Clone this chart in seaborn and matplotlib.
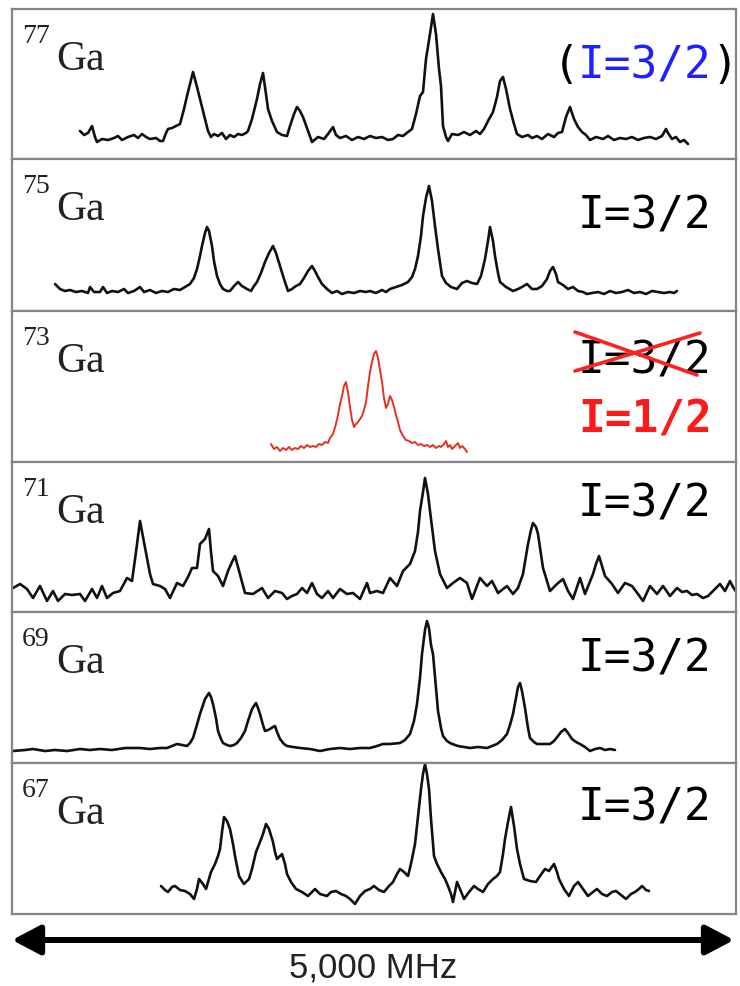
import matplotlib
matplotlib.use("Agg")
import seaborn as sns
import matplotlib.pyplot as plt

# isotopes top to bottom, spectra
# x = frequency channel (image column), y = signal height above panel floor
isotopes = ["77", "75", "73", "71", "69", "67"]

ga77_x = [80, 84, 88, 92, 95, 97, 102, 108, 114, 118, 122, 128, 134, 138, 142, 146, 150, 156, 160, 163,
          166, 168, 172, 176, 180, 184, 187, 190, 193, 196, 200, 204, 208, 211, 214, 218, 222, 226, 230, 234,
          238, 242, 246, 248, 252, 257, 260, 263, 266, 268, 272, 277, 282, 287, 290, 294, 297, 300, 303, 308,
          312, 318, 324, 328, 333, 336, 340, 346, 352, 358, 364, 370, 376, 382, 388, 393, 398, 403, 408, 412,
          416, 420, 423, 426, 430, 433, 436, 439, 441, 443, 446, 448, 452, 458, 464, 470, 476, 480, 484, 488,
          493, 497, 500, 503, 506, 510, 514, 517, 522, 528, 532, 537, 542, 548, 554, 558, 562, 566, 570, 574,
          578, 582, 586, 590, 596, 603, 608, 614, 620, 626, 632, 638, 644, 650, 656, 662, 666, 668, 672, 676,
          680, 684, 688]
ga77_y = [28, 24, 26, 33, 22, 17, 20, 19, 21, 23, 19, 22, 24, 21, 25, 22, 20, 21, 18, 18,
          26, 30, 31, 33, 35, 50, 63, 75, 87, 76, 60, 44, 28, 22, 25, 23, 26, 20, 24, 22,
          25, 24, 26, 28, 40, 60, 75, 86, 65, 50, 38, 27, 24, 23, 33, 45, 52, 48, 42, 28,
          17, 22, 20, 25, 32, 24, 21, 23, 19, 22, 20, 23, 21, 22, 19, 20, 24, 23, 27, 30,
          45, 63, 67, 100, 125, 145, 125, 90, 73, 33, 22, 18, 25, 24, 27, 24, 28, 25, 30, 38,
          47, 62, 78, 82, 70, 50, 35, 25, 22, 24, 21, 23, 20, 25, 22, 26, 27, 42, 52, 40,
          32, 27, 24, 19, 22, 20, 23, 19, 21, 20, 22, 19, 21, 22, 20, 23, 30, 26, 20, 22,
          17, 19, 15]

ga75_x = [55, 60, 65, 70, 76, 82, 88, 90, 94, 100, 103, 107, 112, 118, 124, 128, 134, 140, 144, 150,
          156, 162, 168, 174, 180, 185, 190, 194, 197, 200, 202, 205, 207, 209, 212, 214, 217, 220, 223, 227,
          230, 234, 238, 242, 247, 251, 254, 257, 261, 265, 269, 273, 276, 280, 284, 288, 292, 296, 300, 304,
          308, 312, 315, 318, 322, 327, 332, 337, 342, 348, 354, 360, 366, 370, 376, 382, 386, 390, 396, 402,
          408, 412, 415, 418, 421, 423, 426, 429, 432, 435, 438, 442, 446, 451, 457, 462, 467, 472, 477, 481,
          485, 488, 490, 493, 495, 498, 500, 506, 513, 518, 522, 527, 532, 537, 542, 547, 550, 553, 556, 558,
          563, 568, 573, 578, 583, 587, 592, 598, 604, 610, 616, 622, 628, 634, 640, 646, 652, 658, 664, 670,
          674, 677]
ga75_y = [27, 22, 20, 21, 19, 20, 18, 24, 19, 19, 24, 18, 20, 19, 22, 18, 20, 24, 19, 21,
          18, 20, 19, 22, 21, 24, 27, 33, 42, 55, 65, 78, 84, 80, 65, 50, 35, 27, 22, 20,
          20, 25, 29, 25, 22, 20, 25, 29, 38, 49, 58, 65, 58, 45, 32, 20, 22, 25, 27, 33,
          40, 45, 40, 34, 27, 22, 18, 20, 17, 19, 18, 20, 19, 20, 18, 21, 19, 22, 24, 26,
          29, 34, 42, 55, 75, 95, 113, 125, 110, 85, 62, 35, 28, 24, 22, 28, 30, 28, 27, 35,
          52, 70, 84, 70, 55, 38, 29, 24, 20, 22, 24, 27, 22, 22, 25, 32, 40, 44, 37, 29,
          26, 22, 24, 20, 19, 17, 18, 19, 17, 20, 18, 19, 21, 18, 19, 17, 20, 19, 18, 19,
          18, 20]

ga73_x = [271, 274, 277, 280, 283, 286, 289, 292, 295, 298, 301, 304, 307, 310, 313, 316, 319, 322, 325, 328,
          330, 333, 336, 338, 340, 342, 344, 346, 348, 350, 352, 354, 356, 358, 360, 362, 364, 366, 368, 370,
          372, 374, 376, 378, 380, 382, 384, 386, 388, 390, 392, 394, 396, 398, 400, 403, 406, 409, 412, 415,
          418, 421, 424, 427, 430, 433, 436, 439, 441, 444, 446, 448, 450, 452, 455, 458, 460, 462, 465, 467]
ga73_y = [18, 13, 15, 11, 14, 12, 15, 12, 14, 13, 16, 14, 17, 15, 16, 15, 18, 17, 20, 19,
          24, 28, 38, 47, 58, 66, 76, 80, 70, 55, 42, 35, 38, 40, 43, 46, 52, 60, 76, 90,
          100, 108, 111, 104, 92, 80, 64, 54, 58, 66, 62, 55, 47, 40, 32, 26, 22, 21, 19, 20,
          17, 18, 16, 17, 15, 17, 14, 16, 15, 18, 21, 15, 17, 13, 16, 19, 14, 16, 13, 10]

ga71_x = [13, 20, 27, 33, 40, 47, 53, 58, 65, 72, 80, 85, 92, 97, 102, 107, 113, 120, 127, 132,
          136, 140, 144, 147, 150, 153, 160, 165, 170, 177, 183, 188, 192, 197, 200, 205, 209, 211, 213, 218,
          223, 228, 232, 235, 238, 240, 245, 253, 262, 268, 275, 282, 287, 292, 297, 302, 307, 312, 317, 322,
          328, 333, 340, 347, 353, 360, 364, 367, 370, 377, 383, 390, 397, 403, 410, 415, 418, 420, 423, 425,
          428, 430, 435, 440, 447, 453, 460, 467, 472, 480, 487, 492, 498, 507, 513, 518, 523, 528, 531, 533,
          536, 538, 543, 550, 557, 563, 568, 573, 580, 585, 593, 596, 599, 602, 605, 612, 618, 625, 632, 638,
          643, 650, 657, 663, 670, 677, 682, 687, 692, 697, 703, 708, 713, 720, 725, 730, 733, 737]
ga71_y = [24, 28, 23, 14, 26, 11, 21, 11, 18, 17, 18, 11, 23, 14, 26, 14, 19, 21, 34, 31,
          60, 91, 70, 54, 38, 28, 26, 23, 14, 29, 26, 35, 44, 44, 68, 73, 83, 60, 41, 36,
          26, 41, 50, 56, 45, 38, 19, 18, 24, 14, 21, 19, 13, 16, 18, 24, 19, 29, 18, 14,
          21, 14, 23, 18, 19, 13, 22, 29, 19, 21, 19, 34, 26, 41, 48, 61, 80, 101, 120, 134,
          118, 101, 61, 38, 24, 29, 34, 29, 13, 34, 26, 31, 19, 26, 18, 24, 38, 68, 82, 89,
          85, 78, 44, 21, 28, 33, 21, 13, 34, 18, 38, 48, 56, 46, 36, 28, 19, 29, 26, 18,
          11, 26, 18, 26, 16, 24, 20, 21, 17, 18, 14, 16, 21, 28, 21, 31, 25, 19]

ga69_x = [13, 25, 33, 45, 55, 67, 80, 90, 100, 112, 125, 140, 150, 160, 167, 172, 177, 182, 187, 190,
          193, 196, 200, 203, 205, 209, 211, 213, 216, 218, 221, 223, 227, 230, 234, 237, 241, 245, 248, 252,
          256, 258, 260, 263, 265, 268, 270, 273, 275, 277, 280, 284, 287, 293, 300, 310, 320, 330, 340, 350,
          360, 370, 377, 383, 390, 400, 405, 410, 414, 417, 420, 422, 425, 427, 429, 431, 433, 436, 438, 441,
          443, 447, 450, 455, 458, 464, 470, 478, 487, 492, 497, 502, 507, 510, 513, 516, 518, 520, 522, 525,
          528, 530, 534, 537, 544, 550, 554, 558, 561, 565, 568, 572, 576, 580, 585, 590, 595, 600, 605, 610,
          615]
ga69_y = [12, 13, 14, 12, 13, 12, 14, 13, 14, 13, 15, 15, 14, 15, 15, 17, 19, 18, 17, 20,
          25, 35, 49, 58, 64, 70, 66, 59, 45, 32, 24, 20, 18, 17, 18, 20, 25, 32, 42, 54,
          60, 55, 49, 38, 32, 33, 34, 36, 37, 31, 24, 19, 17, 16, 15, 14, 12, 14, 15, 14,
          15, 15, 17, 19, 19, 20, 23, 29, 42, 59, 85, 109, 133, 142, 135, 118, 109, 75, 52, 35,
          27, 22, 20, 18, 17, 16, 15, 16, 15, 17, 19, 23, 29, 38, 49, 65, 76, 80, 72, 55,
          35, 25, 21, 19, 19, 19, 22, 27, 31, 34, 30, 24, 21, 19, 16, 12, 14, 15, 13, 14,
          13]

ga67_x = [161, 165, 168, 172, 175, 180, 185, 190, 194, 197, 199, 203, 206, 209, 211, 215, 218, 220, 222, 224,
          227, 230, 233, 235, 237, 239, 242, 244, 247, 249, 252, 256, 260, 263, 266, 269, 273, 275, 277, 280,
          282, 285, 287, 291, 296, 302, 308, 312, 315, 320, 327, 331, 336, 341, 346, 350, 355, 360, 365, 370,
          374, 379, 384, 389, 393, 397, 400, 404, 408, 410, 412, 415, 417, 419, 421, 423, 425, 427, 429, 431,
          434, 437, 441, 445, 448, 451, 453, 455, 457, 460, 464, 469, 474, 478, 483, 488, 493, 497, 500, 503,
          505, 508, 511, 514, 517, 520, 524, 530, 536, 540, 545, 549, 554, 557, 559, 564, 569, 574, 578, 583,
          588, 593, 597, 602, 607, 612, 616, 621, 626, 631, 635, 639, 642, 646, 649]
ga67_y = [28, 24, 22, 27, 28, 24, 23, 20, 15, 25, 35, 30, 25, 35, 42, 50, 58, 65, 82, 97,
          93, 85, 70, 58, 48, 38, 33, 30, 33, 35, 45, 62, 72, 80, 90, 85, 72, 62, 55, 58,
          60, 50, 40, 32, 25, 22, 18, 22, 25, 20, 18, 22, 23, 20, 18, 15, 10, 18, 23, 25,
          28, 24, 22, 28, 32, 40, 45, 42, 38, 46, 55, 70, 88, 105, 125, 140, 150, 140, 125, 95,
          58, 50, 42, 35, 28, 20, 12, 22, 32, 25, 15, 22, 28, 25, 22, 30, 35, 38, 42, 60,
          75, 92, 107, 88, 65, 50, 35, 33, 32, 38, 45, 43, 50, 42, 35, 25, 18, 28, 32, 25,
          18, 22, 25, 20, 18, 22, 23, 19, 15, 20, 22, 25, 28, 24, 23]

spin_text = ["I=3/2", "I=3/2", "I=3/2", "I=3/2", "I=3/2", "I=3/2"]
corrected_spin = "I=1/2"
scale_text = "5,000 MHz"

# layout in image pixels
W, H = 740, 987
left, right = 12, 736
edges = [10, 160, 312, 463, 613, 764, 915]
spin_drop = [68, 68, 62, 54, 59, 57]

traces = [(ga77_x, ga77_y), (ga75_x, ga75_y), (ga73_x, ga73_y),
          (ga71_x, ga71_y), (ga69_x, ga69_y), (ga67_x, ga67_y)]

sns.set_style("white")
plt.rcParams["font.family"] = ["DejaVu Sans"]

fig = plt.figure(figsize=(W / 100, H / 100), dpi=100)

for i, iso in enumerate(isotopes):
    top, bot = edges[i], edges[i + 1]
    h = bot - top
    ax = fig.add_axes([left / W, 1 - bot / H, (right - left) / W, h / H])
    xs, ys = traces[i]
    if iso == "73":
        sns.lineplot(x=xs, y=ys, ax=ax, color="#e2321f", linewidth=1.4, sort=False, estimator=None)
    else:
        sns.lineplot(x=xs, y=ys, ax=ax, color="#111111", linewidth=1.9, sort=False, estimator=None)
    ax.set_xlim(left, right)
    ax.set_ylim(0, h)
    ax.set_xticks([])
    ax.set_yticks([])
    ax.set_xlabel("")
    ax.set_ylabel("")
    for sp in ax.spines.values():
        sp.set_visible(True)
        sp.set_color("#858585")
        sp.set_linewidth(1.6)

    # isotope label
    ax.text((22 - left) / (right - left), 1 - 33 / h, iso, transform=ax.transAxes,
            fontsize=20, family="Liberation Serif", color="#222222", va="baseline")
    ax.text((56 - left) / (right - left), 1 - 60 / h, "Ga", transform=ax.transAxes,
            fontsize=30, family="Liberation Serif", color="#222222", va="baseline")

    # spin label
    yb = 1 - spin_drop[i] / h
    xc = (645 - left) / (right - left)
    if i == 0:
        ax.text(xc, yb, spin_text[i], transform=ax.transAxes, fontsize=32,
                family="DejaVu Sans Mono", color="#1f1fff", ha="center", va="baseline")
        ax.text((579 - left) / (right - left), yb, "(", transform=ax.transAxes, fontsize=32,
                family="DejaVu Sans Mono", color="black", ha="right", va="baseline")
        ax.text((711 - left) / (right - left), yb, ")", transform=ax.transAxes, fontsize=32,
                family="DejaVu Sans Mono", color="black", ha="left", va="baseline")
    else:
        ax.text(xc, yb, spin_text[i], transform=ax.transAxes, fontsize=32,
                family="DejaVu Sans Mono", color="black", ha="center", va="baseline")
    if iso == "73":
        ax.text(xc, 1 - 121 / h, corrected_spin, transform=ax.transAxes, fontsize=32,
                family="DejaVu Sans Mono", fontweight="bold", color="#ff1a1a",
                ha="center", va="baseline")

# overlay for the strike-through and the frequency scale bar
ov = fig.add_axes([0, 0, 1, 1])
ov.set_xlim(0, W)
ov.set_ylim(H, 0)
ov.axis("off")

cross_a = ([575, 697], [333, 376])
cross_b = ([575, 700], [372, 334])
ov.plot(cross_a[0], cross_a[1], color="#ff2020", linewidth=2.6, solid_capstyle="round")
ov.plot(cross_b[0], cross_b[1], color="#ff2020", linewidth=2.6, solid_capstyle="round")

ov.annotate("", xy=(left, 941), xytext=(right - 2, 941),
            arrowprops=dict(arrowstyle="<|-|>,head_length=0.95,head_width=0.5",
                            lw=4.3, color="black", mutation_scale=18,
                            shrinkA=0, shrinkB=0))
ov.text(373, 968, scale_text, fontsize=25, family="Liberation Sans", color="#222222",
        ha="center", va="center")

fig.savefig("out.png", dpi=100, facecolor="white")
